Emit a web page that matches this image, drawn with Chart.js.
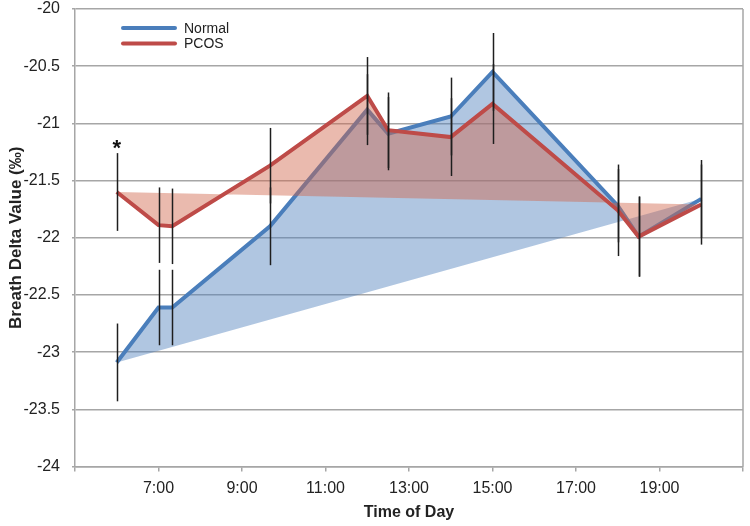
<!DOCTYPE html>
<html>
<head>
<meta charset="utf-8">
<script src="https://cdn.jsdelivr.net/npm/chart.js@4"></script>
<style>
  body { margin: 0; background: #fff; }
</style>
</head>
<body>
<canvas id="myChart" width="750" height="526"></canvas>
<script>
// time of day in hours (9.67 = 9:40)
const times = [6, 7, 7.33, 9.67, 12, 12.5, 14, 15, 18, 18.5, 20];
const seriesNames = ['Normal', 'PCOS'];
const normal = [-23.09, -22.61, -22.61, -21.90, -20.88, -21.09, -20.94, -20.55, -21.72, -21.99, -21.66];
const pcos = [-21.60, -21.89, -21.90, -21.37, -20.76, -21.06, -21.12, -20.83, -21.76, -21.99, -21.71];
const normalErr = [0.34, 0.33, 0.33, 0.34, 0.31, 0.32, 0.34, 0.34, 0.32, 0.35, 0.34];
const pcosErr = [0.34, 0.33, 0.33, 0.33, 0.34, 0.33, 0.34, 0.35, 0.40, 0.35, 0.35];
const xTicks = [5, 7, 9, 11, 13, 15, 17, 19, 21];

const blue = '#4a7ebb';
const red = '#be4b48';

function pts(vals) {
    return times.map((t, i) => ({ x: t, y: vals[i] }));
}
// straight line from first to last point, used as the fill boundary
function chord(vals) {
    const n = vals.length - 1;
    return [{ x: times[0], y: vals[0] }, { x: times[n], y: vals[n] }];
}

// error bars, asterisk, legend and right frame line
const extras = {
    id: 'extras',
    beforeDatasetsDraw(chart) {
        const { ctx, chartArea: a } = chart;
        ctx.save();
        ctx.strokeStyle = '#a6a6a6';
        ctx.lineWidth = 1.5;
        ctx.beginPath();
        ctx.moveTo(a.right, a.top);
        ctx.lineTo(a.right, a.bottom);
        ctx.stroke();
        ctx.restore();
    },
    afterDatasetsDraw(chart) {
        const { ctx } = chart;
        const xs = chart.scales.x;
        const ys = chart.scales.y;
        ctx.save();
        ctx.strokeStyle = '#1e1e1e';
        ctx.lineWidth = 1.5;
        [[normal, normalErr], [pcos, pcosErr]].forEach(([vals, errs]) => {
            vals.forEach((v, i) => {
                const x = Math.round(xs.getPixelForValue(times[i])) + 0.5;
                ctx.beginPath();
                ctx.moveTo(x, ys.getPixelForValue(v + errs[i]));
                ctx.lineTo(x, ys.getPixelForValue(v - errs[i]));
                ctx.stroke();
            });
        });

        // significance marker
        ctx.fillStyle = '#111';
        ctx.font = 'bold 22px "Liberation Sans", Arial, sans-serif';
        ctx.textAlign = 'center';
        ctx.textBaseline = 'middle';
        ctx.fillText('*', xs.getPixelForValue(times[0]), ys.getPixelForValue(pcos[0] + pcosErr[0]) - 4);

        // legend
        const colors = [blue, red];
        ctx.font = '14px "Liberation Sans", Arial, sans-serif';
        ctx.textAlign = 'left';
        ctx.lineCap = 'round';
        seriesNames.forEach((name, i) => {
            const y = 28 + i * 15.6;
            ctx.strokeStyle = colors[i];
            ctx.lineWidth = 4;
            ctx.beginPath();
            ctx.moveTo(123, y);
            ctx.lineTo(175, y);
            ctx.stroke();
            ctx.fillStyle = '#222';
            ctx.fillText(name, 184, y + 1);
        });
        ctx.restore();
    }
};

const ctx = document.getElementById('myChart').getContext('2d');
const myChart = new Chart(ctx, {
    type: 'line',
    data: {
        datasets: [
            {
                label: seriesNames[0],
                data: pts(normal),
                borderColor: blue,
                backgroundColor: 'rgba(79, 129, 189, 0.45)',
                borderWidth: 4,
                fill: 2,
                order: 2
            },
            {
                label: seriesNames[1],
                data: pts(pcos),
                borderColor: red,
                backgroundColor: 'rgba(208, 102, 76, 0.45)',
                borderWidth: 4,
                fill: 3,
                order: 1
            },
            {
                label: 'chordNormal',
                data: chord(normal),
                borderColor: 'rgba(0,0,0,0)',
                borderWidth: 0,
                fill: false,
                order: 3
            },
            {
                label: 'chordPCOS',
                data: chord(pcos),
                borderColor: 'rgba(0,0,0,0)',
                borderWidth: 0,
                fill: false,
                order: 3
            }
        ]
    },
    options: {
        responsive: false,
        animation: false,
        devicePixelRatio: 1,
        events: [],
        layout: { padding: { top: 0, right: 5, left: 0, bottom: 0 } },
        elements: {
            line: { tension: 0, borderJoinStyle: 'miter', borderCapStyle: 'butt' },
            point: { radius: 0, hoverRadius: 0 }
        },
        plugins: {
            legend: { display: false },
            tooltip: { enabled: false },
            filler: { propagate: false }
        },
        scales: {
            x: {
                type: 'linear',
                min: 5,
                max: 21,
                afterBuildTicks: s => { s.ticks = xTicks.map(v => ({ value: v })); },
                afterFit: s => { s.height = 59.5; },
                ticks: {
                    callback: v => (v === 5 || v === 21) ? '' : v + ':00',
                    color: '#222',
                    font: { family: '"Liberation Sans", Arial, sans-serif', size: 16 },
                    padding: 7,
                    maxRotation: 0,
                    autoSkip: false
                },
                grid: { drawOnChartArea: false, color: '#a6a6a6', lineWidth: 1.5, tickLength: 5 },
                border: { color: '#a6a6a6', width: 1.5 },
                title: {
                    display: true,
                    text: 'Time of Day',
                    color: '#222',
                    font: { family: '"Liberation Sans", Arial, sans-serif', size: 16, weight: 'bold' },
                    padding: { top: 0, bottom: 4 }
                }
            },
            y: {
                min: -24,
                max: -20,
                afterFit: s => { s.width = 75; s.paddingTop = 9; s.paddingBottom = 0; },
                ticks: {
                    stepSize: 0.5,
                    callback: v => String(v),
                    color: '#222',
                    font: { family: '"Liberation Sans", Arial, sans-serif', size: 16 },
                    padding: 12
                },
                grid: { color: '#a6a6a6', lineWidth: 1.5, tickLength: 3 },
                border: { color: '#a6a6a6', width: 1.5 },
                title: {
                    display: true,
                    text: 'Breath Delta Value (‰)',
                    color: '#222',
                    font: { family: '"Liberation Sans", Arial, sans-serif', size: 17, weight: 'bold' },
                    padding: { top: 6, bottom: 0 }
                }
            }
        }
    },
    plugins: [extras]
});
</script>
</body>
</html>
